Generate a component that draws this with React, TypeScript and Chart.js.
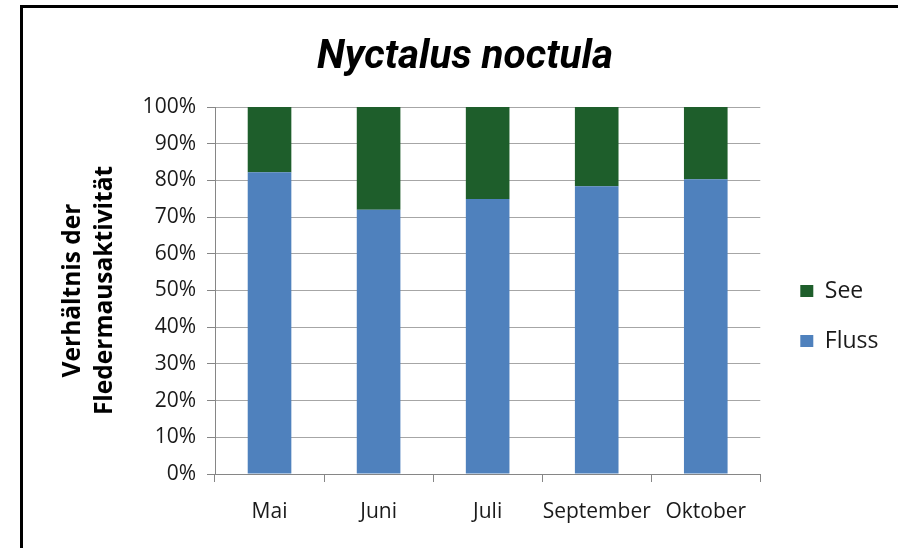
import React, { useEffect, useRef } from 'react';
import { Chart, registerables } from 'chart.js';

Chart.register(...registerables);

const TITLE = 'Nyctalus noctula';
const Y_TITLE = ['Verhältnis der', 'Fledermausaktivität'];
const CATEGORIES = ['Mai', 'Juni', 'Juli', 'September', 'Oktober'];
const FLUSS = [82.2, 72.0, 74.9, 78.4, 80.3];
const SEE = [17.8, 28.0, 25.1, 21.6, 19.7];
const Y_TICKS = [0, 10, 20, 30, 40, 50, 60, 70, 80, 90, 100];

const AXIS = '#868686';
const GRID = '#a6a6a6';
const TEXT = '#1a1a1a';

export default function App() {
  const ref = useRef<HTMLCanvasElement>(null);

  useEffect(() => {
    const tickFont = { family: 'Open Sans', size: 21, lineHeight: 1.2 };
    const chart = new Chart(ref.current as HTMLCanvasElement, {
      type: 'bar',
      data: {
        labels: CATEGORIES,
        datasets: [
          { label: 'Fluss', data: FLUSS, backgroundColor: '#4F81BD' },
          { label: 'See', data: SEE, backgroundColor: '#1E5E2B' },
        ],
      },
      options: {
        responsive: false,
        animation: false,
        layout: { padding: { left: 41.5, right: 9.5, top: 0, bottom: 6.8 } },
        datasets: { bar: { barPercentage: 0.4, categoryPercentage: 1 } },
        scales: {
          x: {
            stacked: true,
            offset: true,
            ticks: {
              font: tickFont,
              color: TEXT,
              padding: 17,
              maxRotation: 0,
              autoSkip: false,
            },
            grid: {
              offset: true,
              drawOnChartArea: false,
              tickLength: 8,
              tickColor: AXIS,
            },
            border: { color: AXIS },
          },
          y: {
            stacked: true,
            min: 0,
            max: 100,
            afterBuildTicks: (s: any) => {
              s.ticks = Y_TICKS.map((v) => ({ value: v }));
            },
            afterFit: (s: any) => {
              s.width = 173.5;
            },
            ticks: {
              callback: (v: any) => `${v}%`,
              font: tickFont,
              color: TEXT,
              padding: 11,
            },
            grid: { color: GRID, tickLength: 8, tickColor: AXIS },
            border: { color: AXIS },
            title: {
              display: true,
              text: Y_TITLE,
              color: '#000',
              font: { family: 'Open Sans', size: 24.5, weight: 'bold', lineHeight: 1.27 },
              padding: { top: 16.4, bottom: 0 },
            },
          },
          yR: {
            type: 'linear',
            position: 'right',
            display: true,
            grid: { display: false, drawTicks: false },
            ticks: { display: false },
            border: { display: false },
            afterFit: (s: any) => {
              s.width = 13;
            },
          },
        } as any,
        plugins: {
          title: {
            display: true,
            text: TITLE,
            color: '#000',
            font: { family: 'Roboto', size: 40.5, weight: 'bold', style: 'italic', lineHeight: 1.2 },
            padding: { top: 34, bottom: 24.4 },
          },
          legend: {
            position: 'right',
            reverse: true,
            title: { display: true, text: ' ', padding: { top: 0, bottom: 76.4 }, font: { size: 12, lineHeight: 1.2 } },
            labels: {
              boxWidth: 13,
              boxHeight: 12,
              padding: 27,
              color: TEXT,
              font: { family: 'Open Sans', size: 23 },
            },
          },
          tooltip: { enabled: false },
        },
      } as any,
    });
    return () => chart.destroy();
  }, []);

  return (
    <div
      style={{
        position: 'fixed',
        left: 0,
        top: 0,
        width: 898,
        height: 548,
        overflow: 'hidden',
        background: '#fff',
      }}
    >
      <div
        style={{
          position: 'absolute',
          left: 20,
          top: 5,
          width: 940,
          height: 600,
          borderLeft: '3px solid #000',
          borderTop: '3px solid #000',
          boxSizing: 'border-box',
        }}
      />
      <canvas ref={ref} width={898} height={548} style={{ position: 'absolute', left: 0, top: 0 }} />
    </div>
  );
}
